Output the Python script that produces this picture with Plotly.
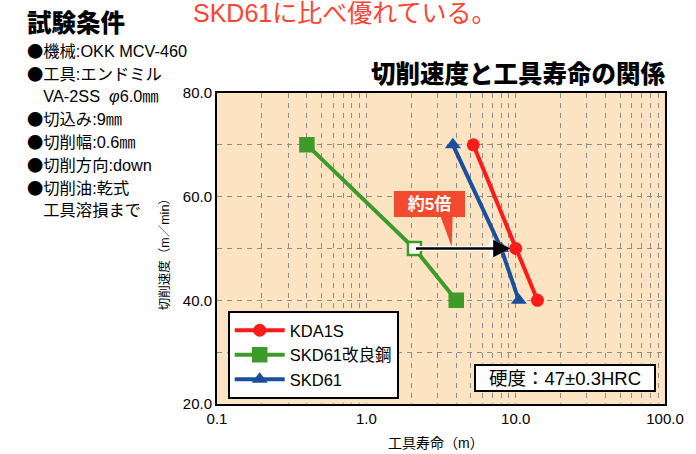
import math
import plotly.graph_objects as go

# ---- data ----
series_names = ["KDA1S", "SKD61改良鋼", "SKD61"]
kda1s_life = [5.2, 10.0, 14.0]
kda1s_speed = [70, 50, 40]
skd61_imp_life = [0.4, 2.1, 4.0]
skd61_imp_speed = [70, 50, 40]
skd61_life = [3.8, 8.0, 10.5]
skd61_speed = [70, 50, 40]

x_tick_vals = [0.1, 1, 10, 100]
x_tick_text = ["0.1", "1.0", "10.0", "100.0"]
y_tick_vals = [20, 40, 60, 80]
y_tick_text = ["20.0", "40.0", "60.0", "80.0"]

BUL = '<span style="font-family:Noto Sans CJK JP">●</span>'
conditions = [
    BUL + "機械:OKK MCV-460",
    BUL + "工具:エンドミル",
    "　VA-2SS  <i>φ</i>6.0㎜",
    BUL + "切込み:9㎜",
    BUL + "切削幅:0.6㎜",
    BUL + "切削方向:down",
    BUL + "切削油:乾式",
    "　工具溶損まで",
]

FONT = "Liberation Sans, Noto Sans CJK JP"
JFONT = "Noto Sans CJK JP"
RED = "#ff1a1a"
GREEN = "#3d9b2a"
BLUE = "#1a4f9e"

# plot area in pixels
W, H = 696, 454
L, R, T, B = 217, 677, 93, 404

def px(x):
    return (x - L) / (R - L)

def py(y):
    return (B - y) / (B - T)

fig = go.Figure()
fig.add_trace(go.Scatter(x=kda1s_life, y=kda1s_speed, name=series_names[0], mode="lines+markers",
                         line=dict(color=RED, width=4), marker=dict(symbol="circle", size=13, color=RED)))
fig.add_trace(go.Scatter(x=skd61_imp_life, y=skd61_imp_speed, name=series_names[1], mode="lines+markers",
                         line=dict(color=GREEN, width=4),
                         marker=dict(symbol="square", size=13, color=[GREEN, "white", GREEN],
                                     line=dict(color=GREEN, width=2.5))))
fig.add_trace(go.Scatter(x=skd61_life, y=skd61_speed, name=series_names[2], mode="lines+markers",
                         line=dict(color=BLUE, width=4), marker=dict(symbol="triangle-up", size=14, color=BLUE)))

# grid positions (minor grid on log axis)
xgrid = []
for d in [0.1, 1, 10]:
    for k in range(1, 10):
        xgrid.append(round(d * k, 4))
xgrid.append(100)
xgrid_text = [x_tick_text[x_tick_vals.index(v)] if v in x_tick_vals else "" for v in xgrid]
ygrid = list(range(20, 81, 10))
ygrid_text = [y_tick_text[y_tick_vals.index(v)] if v in y_tick_vals else "" for v in ygrid]

fig.update_xaxes(type="log", range=[-1, 2], tickvals=xgrid, ticktext=xgrid_text,
                 showgrid=True, gridcolor="#8c8c8c", griddash="5px,5px", gridwidth=1,
                 showline=True, linecolor="black", linewidth=2, mirror=True,
                 ticks="", tickfont=dict(size=15, color="black", family=FONT), zeroline=False)
fig.update_yaxes(range=[20, 80], tickvals=ygrid, ticktext=ygrid_text,
                 showgrid=True, gridcolor="#8c8c8c", griddash="5px,5px", gridwidth=1,
                 showline=True, linecolor="black", linewidth=2, mirror=True,
                 ticks="", tickfont=dict(size=15, color="black", family=FONT), zeroline=False)

def note(x, y, text, size, color="black", xanchor="center", yanchor="middle", **kw):
    d = dict(x=px(x), y=py(y), xref="paper", yref="paper", text=text, showarrow=False,
             xanchor=xanchor, yanchor=yanchor,
             font=dict(size=size, color=color, family=kw.pop("family", FONT), weight=kw.pop("weight", "normal")))
    d.update(kw)
    return d

annotations = []
# arrow from SKD61改良鋼 to KDA1S at 50 m/min (white outline under black arrow)
arrow_common = dict(x=math.log10(kda1s_life[1]), y=kda1s_speed[1],
                    ax=math.log10(skd61_imp_life[1]), ay=skd61_imp_speed[1],
                    xref="x", yref="y", axref="x", ayref="y", text="", showarrow=True,
                    arrowhead=2, standoff=5)
annotations.append(dict(arrow_common, arrowsize=0.85, arrowwidth=5, arrowcolor="white"))
annotations.append(dict(arrow_common, arrowsize=1.4, arrowwidth=2.5, arrowcolor="black"))
# callout box
annotations.append(note(435.5, 204, "約5倍", 17, color="white", weight="bold",
                        bgcolor="#f24a2e", width=67, height=22, borderpad=2, borderwidth=0))
# hardness box
annotations.append(note(574, 378, "硬度：47±0.3HRC", 18.5, bgcolor="white", bordercolor="black",
                        borderwidth=2, borderpad=1, width=176, height=22))
# axis titles
annotations.append(note(163.3, 251.5, "切削速度（m／min）", 12.5, textangle=-90))
annotations.append(note(442, 443, "工具寿命（m）", 14))
# chart title
annotations.append(note(526, 72, "切削速度と工具寿命の関係", 24.5, weight=900, family=JFONT))
# top red text
annotations.append(note(190, 13, "SKD61に比べ優れている。", 25, color="#ff4330", xanchor="left"))
# left conditions block
annotations.append(note(20, 21, "試験条件", 24.5, xanchor="left", weight=900, family=JFONT))
for i, line in enumerate(conditions):
    annotations.append(note(20, 50 + i * 22.8, line, 16.3, xanchor="left"))

shapes = [dict(type="path", xref="paper", yref="paper",
               path=f"M {px(446)} {py(215)} L {px(459)} {py(215)} L {px(458)} {py(247)} Z",
               fillcolor="#f24a2e", line=dict(width=0))]

fig.update_layout(
    width=W, height=H,
    margin=dict(l=L, r=W - R, t=T, b=H - B),
    paper_bgcolor="white", plot_bgcolor="#fce4c3",
    font=dict(family=FONT, color="black"),
    showlegend=True,
    legend=dict(x=px(228), y=py(311), xanchor="left", yanchor="top",
                bgcolor="white", bordercolor="black", borderwidth=2,
                font=dict(size=16.5, family=FONT, color="black"), itemwidth=50,
                tracegroupgap=0),
    annotations=annotations,
    shapes=shapes,
)

fig.write_html("out.html", config={"displayModeBar": False},
               post_script="document.body.style.margin='0';")
